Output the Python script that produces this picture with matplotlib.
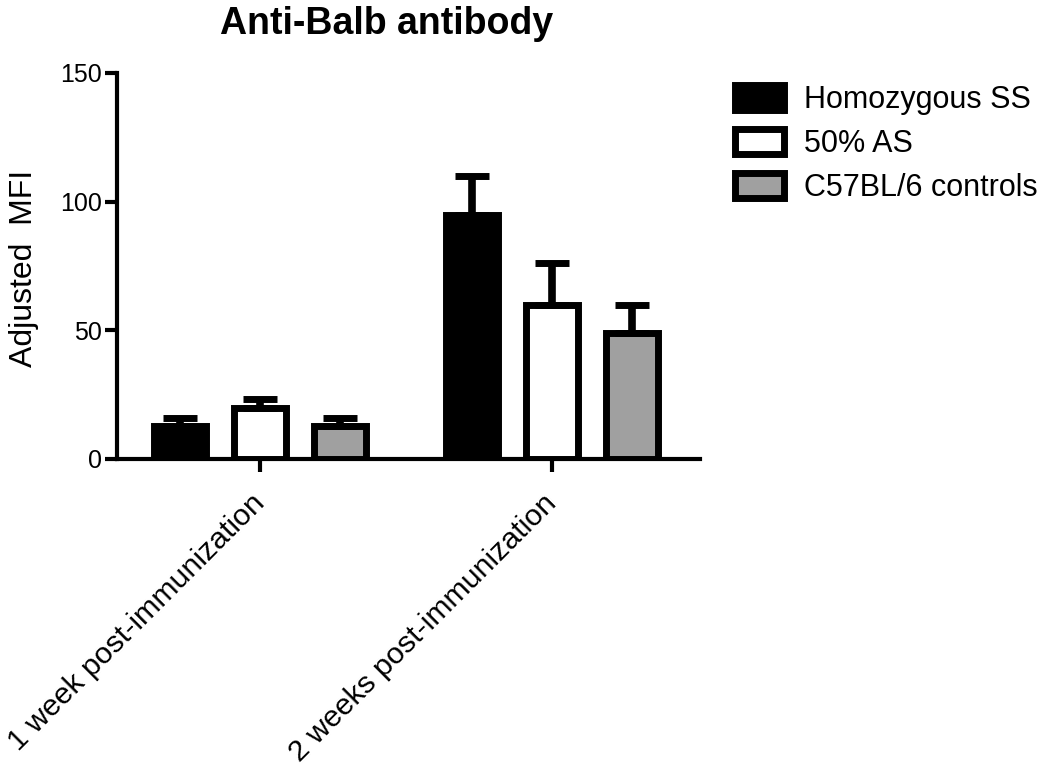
import matplotlib
matplotlib.use("Agg")
import matplotlib.pyplot as plt
import numpy as np

plt.rcParams["font.family"] = ["Liberation Sans", "DejaVu Sans"]

# data
groups = ["1 week post-immunization", "2 weeks post-immunization"]
series = ["Homozygous SS", "50% AS", "C57BL/6 controls"]
colors = ["black", "white", "#a0a0a0"]
means = [[13, 95], [20, 60], [13, 49]]
errs = [[3, 15], [3.5, 16], [3, 11]]
yticks = [0, 50, 100, 150]

fig = plt.figure(figsize=(10.5, 7.68), dpi=100)
ax = fig.add_axes([117/1050, 1-459/768, 583/1050, 386/768])

x = np.arange(len(groups))
width = 0.18
offsets = [-0.274, 0, 0.274]

for i in range(len(series)):
    ax.bar(x + offsets[i], means[i], width, color=colors[i], edgecolor="black",
           linewidth=5, label=series[i], zorder=2)
    lower = np.zeros(len(groups))
    ax.errorbar(x + offsets[i], means[i], yerr=[lower, errs[i]], fmt="none",
                ecolor="black", elinewidth=5.5, capsize=12, capthick=5, zorder=3)

ax.set_xlim(-0.49, 1.507)
ax.set_ylim(0, 150)
ax.set_yticks(yticks)
ax.set_xticks(x)
ax.set_xticklabels(groups, rotation=45, ha="right", va="center",
                   rotation_mode="anchor", fontsize=21.8)

for s in ["top", "right"]:
    ax.spines[s].set_visible(False)
for s in ["left", "bottom"]:
    ax.spines[s].set_linewidth(3)
ax.tick_params(axis="y", width=3, length=9, labelsize=18, pad=2)
ax.tick_params(axis="x", width=3, length=9, pad=20)

fig.text(387/1050, 1-6/768, "Anti-Balb antibody", ha="center", va="top",
         fontsize=27, fontweight="bold")
fig.text(24/1050, 1-268/768, "Adjusted  MFI", ha="center", va="center",
         rotation=90, fontsize=23)

ax.legend(loc="upper left", bbox_to_anchor=(735/1050, 1-85/768),
          bbox_transform=fig.transFigure, frameon=False, fontsize=22,
          handlelength=1.6, handleheight=0.9, handletextpad=0.65,
          labelspacing=0.45, borderpad=0, borderaxespad=0)

plt.savefig("out.png", dpi=100)
